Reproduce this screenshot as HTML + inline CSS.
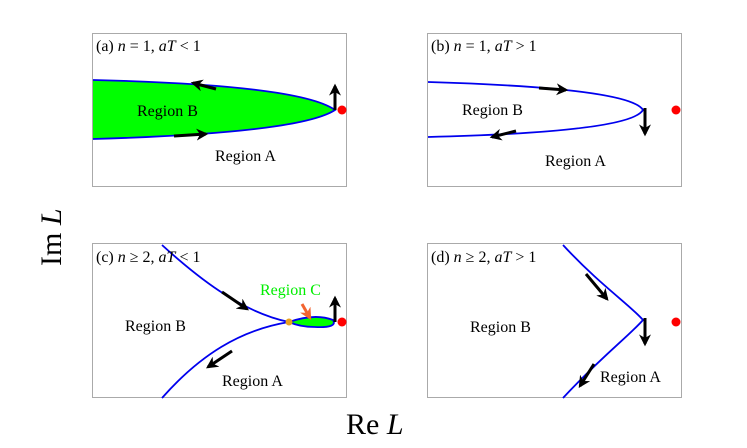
<!DOCTYPE html>
<html><head><meta charset="utf-8"><style>
body{margin:0;background:#fff}
svg{display:block;font-family:"Liberation Serif",serif}
.lbl{font-size:16px}
.ttl{font-size:16px}
</style></head><body>
<svg width="747" height="448" viewBox="0 0 747 448">
<defs>
<marker id="ah" viewBox="0 0 10 10" refX="8" refY="5" markerWidth="4" markerHeight="4" orient="auto"><path d="M0,0 L10,5 L0,10 L3,5 z" fill="#000"/></marker>
<marker id="ao" viewBox="0 0 10 10" refX="8" refY="5" markerWidth="4" markerHeight="4" orient="auto"><path d="M0,0 L10,5 L0,10 L3,5 z" fill="#f26430"/></marker>
</defs>
<script>
const panelTitles=["(a) n = 1, aT < 1","(b) n = 1, aT > 1","(c) n ≥ 2, aT < 1","(d) n ≥ 2, aT > 1"];
</script>
<!-- Panel a -->
<g>
<rect x="92.5" y="33.5" width="254" height="153" fill="#fff" stroke="#aaa"/>
<path d="M93,80 Q300,85 335,110 Q300,133 93,139 Z" fill="#00ff00" stroke="none"/>
<path d="M93,80 Q300,85 335,110 Q300,133 93,139" fill="none" stroke="#0000ee" stroke-width="1.8"/>
<line x1="216" y1="89" x2="193" y2="83" stroke="#000" stroke-width="3" marker-end="url(#ah)"/>
<line x1="174" y1="136" x2="206" y2="134" stroke="#000" stroke-width="3" marker-end="url(#ah)"/>
<line x1="335" y1="110" x2="335" y2="86" stroke="#000" stroke-width="3" marker-end="url(#ah)"/>
<circle cx="342" cy="110" r="4.5" fill="#ff0000"/>
<text x="96" y="51" class="ttl">(a) <tspan font-style="italic">n</tspan> = 1, <tspan font-style="italic">aT</tspan> &lt; 1</text>
<text x="137" y="116" class="lbl">Region B</text>
<text x="215" y="161" class="lbl">Region A</text>
</g>
<!-- Panel b -->
<g>
<rect x="427.5" y="33.5" width="254" height="153" fill="#fff" stroke="#aaa"/>
<path d="M428,82 Q630,88 643,110 Q630,132 428,137" fill="none" stroke="#0000ee" stroke-width="1.8"/>
<line x1="539" y1="88" x2="566" y2="90" stroke="#000" stroke-width="3" marker-end="url(#ah)"/>
<line x1="516" y1="131" x2="492" y2="137" stroke="#000" stroke-width="3" marker-end="url(#ah)"/>
<line x1="645" y1="108" x2="645" y2="134" stroke="#000" stroke-width="3" marker-end="url(#ah)"/>
<circle cx="676" cy="110" r="4.5" fill="#ff0000"/>
<text x="431" y="51" class="ttl">(b) <tspan font-style="italic">n</tspan> = 1, <tspan font-style="italic">aT</tspan> &gt; 1</text>
<text x="462" y="115" class="lbl">Region B</text>
<text x="545" y="166" class="lbl">Region A</text>
</g>
<!-- Panel c -->
<g>
<rect x="92.5" y="243.5" width="254" height="154" fill="#fff" stroke="#aaa"/>
<path d="M162,245 C195,275 240,312 289,322 C240,330 200,355 162,398" fill="none" stroke="#0000ee" stroke-width="1.8"/>
<path d="M289,322 Q315,313 333,320 Q338,328 315,327 Q300,327 289,322 Z" fill="#00ff00" stroke="#0000ee" stroke-width="1.8"/>
<line x1="222" y1="292" x2="247" y2="309" stroke="#000" stroke-width="3" marker-end="url(#ah)"/>
<line x1="232" y1="351" x2="208" y2="367" stroke="#000" stroke-width="3" marker-end="url(#ah)"/>
<line x1="335" y1="322" x2="335" y2="298" stroke="#000" stroke-width="3" marker-end="url(#ah)"/>
<line x1="302" y1="304" x2="310" y2="318" stroke="#f26430" stroke-width="3" marker-end="url(#ao)"/>
<circle cx="289" cy="322" r="3.5" fill="#e8a020"/>
<circle cx="342" cy="322" r="4.5" fill="#ff0000"/>
<text x="96" y="262" class="ttl">(c) <tspan font-style="italic">n</tspan> ≥ 2, <tspan font-style="italic">aT</tspan> &lt; 1</text>
<text x="260" y="295" class="lbl" fill="#00ee00">Region C</text>
<text x="125" y="331" class="lbl">Region B</text>
<text x="222" y="386" class="lbl">Region A</text>
</g>
<!-- Panel d -->
<g>
<rect x="427.5" y="243.5" width="254" height="154" fill="#fff" stroke="#aaa"/>
<path d="M563,245 C600,285 630,305 643,320 C630,335 600,358 563,398" fill="none" stroke="#0000ee" stroke-width="1.8"/>
<line x1="586" y1="274" x2="607" y2="299" stroke="#000" stroke-width="3" marker-end="url(#ah)"/>
<line x1="594" y1="364" x2="580" y2="386" stroke="#000" stroke-width="3" marker-end="url(#ah)"/>
<line x1="645" y1="318" x2="645" y2="344" stroke="#000" stroke-width="3" marker-end="url(#ah)"/>
<circle cx="676" cy="322" r="4.5" fill="#ff0000"/>
<text x="431" y="262" class="ttl">(d) <tspan font-style="italic">n</tspan> ≥ 2, <tspan font-style="italic">aT</tspan> &gt; 1</text>
<text x="470" y="332" class="lbl">Region B</text>
<text x="600" y="382" class="lbl">Region A</text>
</g>
<text x="0" y="0" font-size="30" transform="translate(61,266) rotate(-90)">Im <tspan font-style="italic">L</tspan></text>
<text x="346" y="434" font-size="30">Re <tspan font-style="italic">L</tspan></text>
</svg>
</body></html>
